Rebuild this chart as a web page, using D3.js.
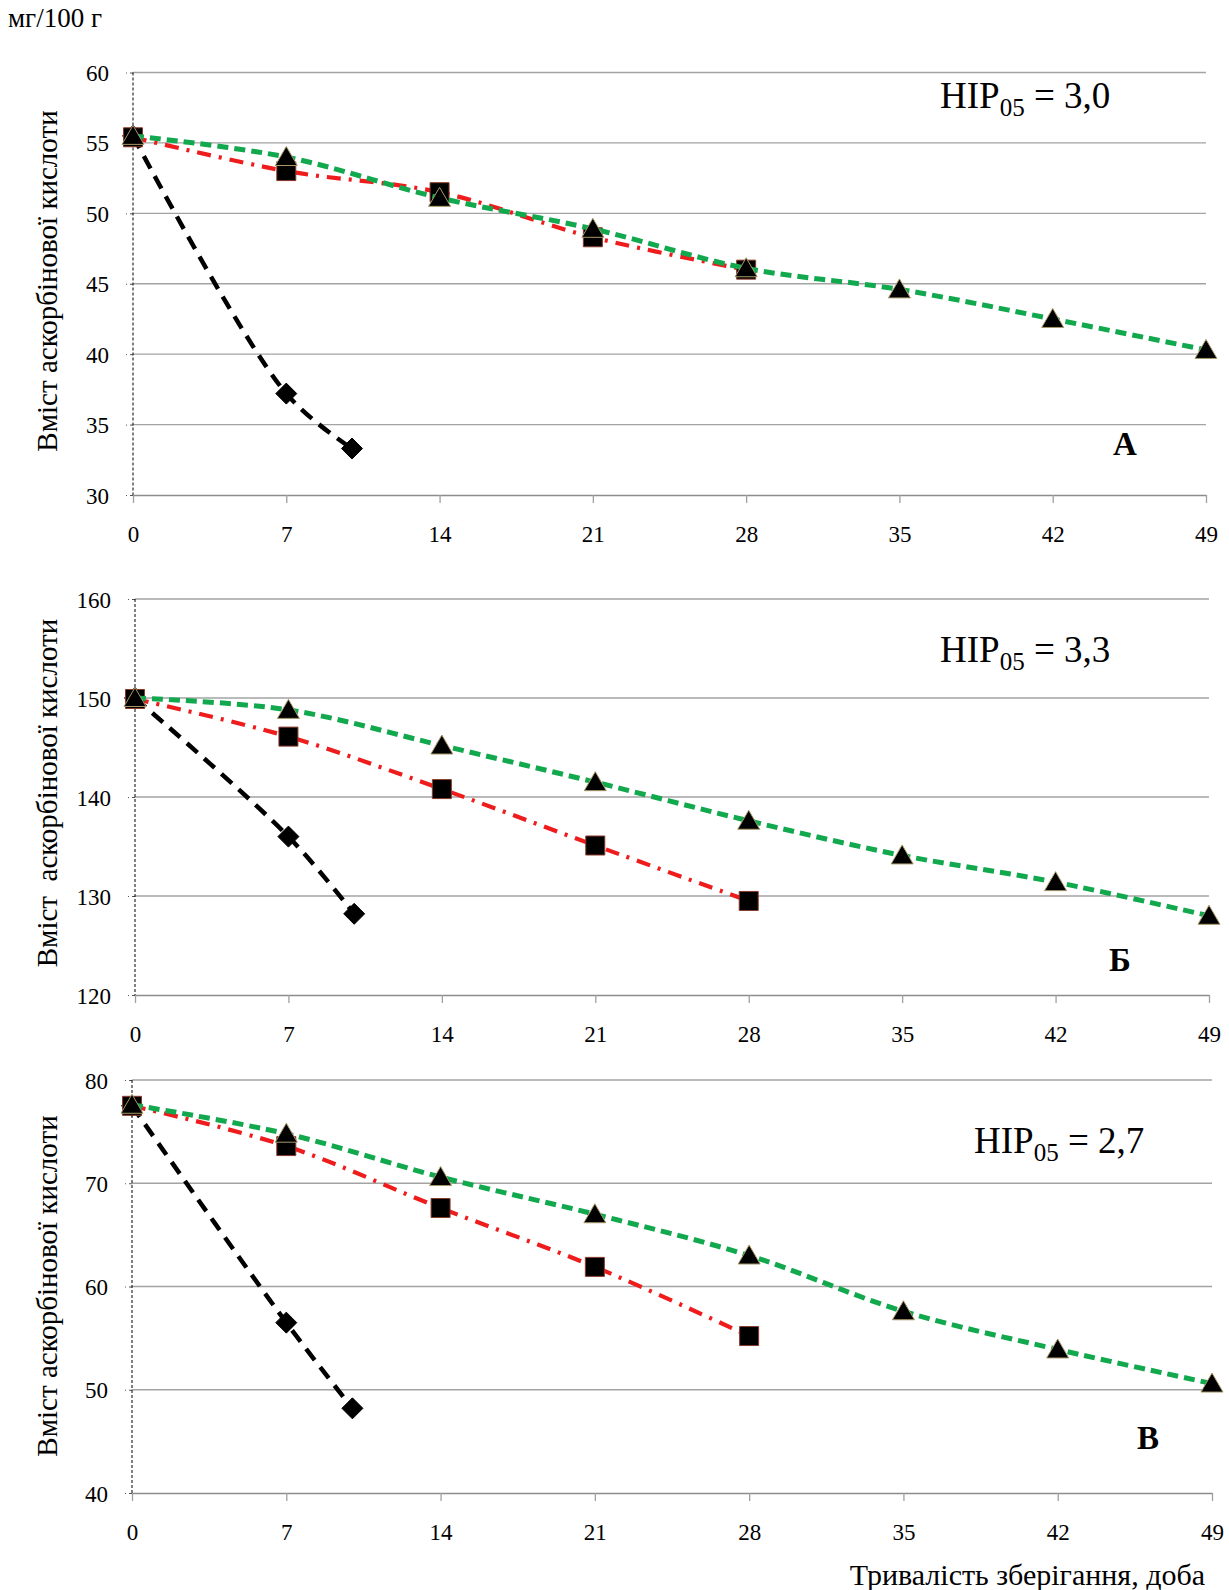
<!DOCTYPE html>
<html>
<head>
<meta charset="utf-8">
<script src="https://cdn.jsdelivr.net/npm/d3@7"></script>
<style>
  body { margin: 0; background: #fff; }
  svg { display: block; }
  text { font-family: "Liberation Serif", "Times New Roman", serif; fill: #000; }
</style>
</head>
<body>
<div id="chart"></div>
<script>
// storage days
const days = [0, 7, 14, 21, 28, 35, 42, 49];
const blackDays = [0, 7, 10];
const redDays = [0, 7, 14, 21, 28];
const greenDays = [0, 7, 14, 21, 28, 35, 42, 49];

// panel А
const aBlack = [55.5, 37.2, 33.3];
const aRed = [55.4, 53.0, 51.5, 48.3, 46.0];
const aGreen = [55.5, 54.0, 51.1, 48.9, 46.1, 44.6, 42.5, 40.3];
const aTicks = [30, 35, 40, 45, 50, 55, 60];

// panel Б
const bBlack = [150, 136.0, 128.2];
const bRed = [149.9, 146.1, 140.8, 135.1, 129.5];
const bGreen = [150, 148.8, 145.2, 141.5, 137.6, 134.1, 131.4, 128.0];
const bTicks = [120, 130, 140, 150, 160];

// panel В
const cBlack = [77.5, 56.5, 48.2];
const cRed = [77.5, 73.6, 67.6, 61.9, 55.2];
const cGreen = [77.6, 74.8, 70.6, 67.0, 63.0, 57.6, 53.9, 50.6];
const cTicks = [40, 50, 60, 70, 80];

const nirValues = ["3,0", "3,3", "2,7"];
const panelLetters = ["А", "Б", "В"];
const yTitles = ["Вміст аскорбінової кислоти", "Вміст  аскорбінової кислоти", "Вміст аскорбінової кислоти"];

const W = 1229, H = 1590;
const FONT = "'Liberation Serif', 'Times New Roman', serif";
const svg = d3.select("#chart").append("svg").attr("width", W).attr("height", H);

const panels = [
  {x0: 133, x1: 1206, yTop: 72.5, yBot: 495, ticks: aTicks, black: aBlack, red: aRed, green: aGreen,
   nirX: 940, nirY: 108, letX: 1125, letY: 455, titleY: 281},
  {x0: 135, x1: 1209, yTop: 599, yBot: 995, ticks: bTicks, black: bBlack, red: bRed, green: bGreen,
   nirX: 940, nirY: 662, letX: 1120, letY: 971, titleY: 793},
  {x0: 132, x1: 1212, yTop: 1080, yBot: 1493, ticks: cTicks, black: cBlack, red: cRed, green: cGreen,
   nirX: 974, nirY: 1153, letX: 1148, letY: 1449, titleY: 1286}
];

const green = "#12a84e", red = "#ee1c1c";

function markerPath(type) {
  if (type === "tri") return "M0,-10.5L11,8.5L-11,8.5Z";
  if (type === "sq") return "M-9.5,-9.5H9.5V9.5H-9.5Z";
  return "M0,-10.5L10.5,0L0,10.5L-10.5,0Z";
}

panels.forEach((p, i) => {
  const x = d3.scaleLinear().domain([0, 49]).range([p.x0, p.x1]);
  const y = d3.scaleLinear().domain([p.ticks[0], p.ticks[p.ticks.length - 1]]).range([p.yBot, p.yTop]);
  const g = svg.append("g");

  // gridlines
  g.append("g").selectAll("line")
    .data(p.ticks.slice(1))
    .enter().append("line")
      .attr("x1", x(0)).attr("x2", x(49))
      .attr("y1", d => y(d)).attr("y2", d => y(d))
      .attr("stroke", "#a3a3a3").attr("stroke-width", 1.3);

  // X axis
  const xa = g.append("g")
    .attr("transform", "translate(0," + p.yBot + ")")
    .call(d3.axisBottom(x).tickValues(days).tickSize(8).tickSizeOuter(0))
    .attr("font-family", FONT);
  xa.select(".domain").attr("stroke", "#8c8c8c").attr("stroke-width", 1.5);
  xa.selectAll(".tick line").attr("stroke", "#a0a0a0").attr("stroke-width", 1.3);
  xa.selectAll("text").attr("y", 47).attr("dy", 0).style("font-size", "23px");

  // Y axis
  const ya = g.append("g")
    .attr("transform", "translate(" + p.x0 + ",0)")
    .call(d3.axisLeft(y).tickValues(p.ticks).tickSize(7).tickSizeOuter(0))
    .attr("font-family", FONT);
  ya.select(".domain").remove();
  ya.selectAll(".tick line").attr("stroke", "#555").attr("stroke-dasharray", "3,3").attr("stroke-width", 1);
  ya.selectAll("text").attr("x", -24).attr("dy", "0.35em").style("font-size", "23px");

  // dashed vertical line at day 0
  g.append("line")
    .attr("x1", x(0)).attr("x2", x(0))
    .attr("y1", p.yTop).attr("y2", p.yBot)
    .attr("stroke", "#000").attr("stroke-width", 1)
    .attr("stroke-dasharray", "3,2");

  // series
  const series = [
    {d: blackDays, v: p.black, color: "#000", dash: "14,9", width: 4.5, mark: "dia", outline: "#000"},
    {d: redDays, v: p.red, color: red, dash: "14,8,3,8", width: 4.2, mark: "sq", outline: "#8a3a2a"},
    {d: greenDays, v: p.green, color: green, dash: "11,6", width: 5, mark: "tri", outline: "#a89868"}
  ];

  const line = d3.line()
    .x(d => x(d[0])).y(d => y(d[1]))
    .curve(d3.curveCatmullRom.alpha(0.5));

  series.forEach(s => {
    const pts = s.d.map((dd, k) => [dd, s.v[k]]);
    g.append("path")
      .datum(pts)
      .attr("d", line)
      .attr("fill", "none")
      .attr("stroke", s.color)
      .attr("stroke-width", s.width)
      .attr("stroke-dasharray", s.dash);
    g.append("g").selectAll("path")
      .data(pts)
      .enter().append("path")
        .attr("d", markerPath(s.mark))
        .attr("transform", d => "translate(" + x(d[0]) + "," + y(d[1]) + ")")
        .attr("fill", "#000")
        .attr("stroke", s.outline)
        .attr("stroke-width", 1);
  });

  // НІР annotation
  const t = g.append("text")
    .attr("x", p.nirX).attr("y", p.nirY)
    .style("font-size", "37px");
  t.append("tspan").text("НІР");
  t.append("tspan").attr("dy", 8).style("font-size", "25px").text("05");
  t.append("tspan").attr("dy", -8).text(" = " + nirValues[i]);

  // panel letter
  g.append("text")
    .attr("x", p.letX).attr("y", p.letY)
    .attr("text-anchor", "middle")
    .style("font-size", "33px").style("font-weight", "bold")
    .text(panelLetters[i]);

  // y title
  g.append("text")
    .attr("transform", "translate(57," + p.titleY + ") rotate(-90)")
    .attr("text-anchor", "middle")
    .style("font-size", "29px")
    .style("white-space", "pre")
    .text(yTitles[i]);
});

// unit label
svg.append("text")
  .attr("x", 8).attr("y", 27)
  .style("font-size", "27px")
  .text("мг/100 г");

// x title
svg.append("text")
  .attr("x", 1205).attr("y", 1585)
  .attr("text-anchor", "end")
  .style("font-size", "30px")
  .text("Тривалість зберігання, доба");
</script>
</body>
</html>
